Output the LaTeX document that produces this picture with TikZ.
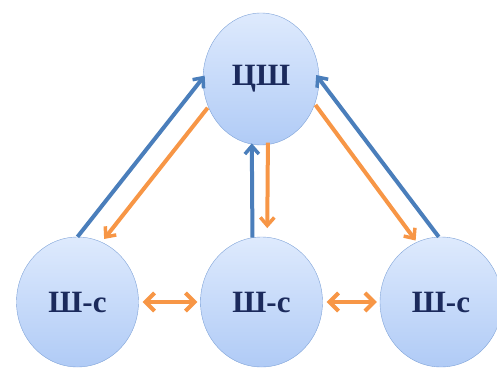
\documentclass[tikz,border=0pt]{standalone}
\usepackage{fontspec}
\setmainfont{Liberation Serif}
\usetikzlibrary{shapes.geometric,arrows.meta}
\definecolor{nodeline}{HTML}{7FA3D8}
\definecolor{nodetop}{HTML}{DEEAFD}
\definecolor{nodebottom}{HTML}{B0CBF6}
\definecolor{textnavy}{HTML}{1B2A5C}
\definecolor{upblue}{HTML}{4A7EBB}
\definecolor{downorange}{HTML}{F79646}
\begin{document}
\begin{tikzpicture}
		[x=1pt,y=-1pt,
		staff/.style={ellipse,draw=nodeline,thin,top color=nodetop,bottom color=nodebottom,
text=textnavy,font=\fontsize{31}{31}\selectfont\bfseries,inner sep=0pt},
		hq/.style={staff,minimum width=116pt,minimum height=132pt},
		unit/.style={staff,minimum width=122pt,minimum height=130pt},
		report/.style={-{Straight Barb[length=8pt,width=14pt,line width=3.5pt]},line width=4pt,upblue},
		order/.style={-{Straight Barb[length=8pt,width=14pt,line width=3.5pt]},line width=4pt,downorange},
		link/.style={{Straight Barb[length=9pt,width=18pt,line width=4pt]}-{Straight Barb[length=9pt,width=18pt,line width=4pt]},line width=4.5pt,downorange,shorten <=4pt,shorten >=3pt}]
		\useasboundingbox (0,0) rectangle (497,369);
		\node at (261, 79) (c) [hq] {ЦШ};
		\node at (77.5, 302) (l) [unit] {Ш-с};
		\node at (261.5, 302) (m) [unit] {Ш-с};
		\node at (441, 302) (r) [unit] {Ш-с};
		% left pair
		\draw [report,shorten >=-3pt] (l.90) -- (c.179);
		\draw [order,shorten <=1pt,shorten >=4pt] (c.208) -- (l.68);
		% middle pair
		\draw [report,shorten >=-1pt] (m.98) -- (c.262);
		\draw [order,shorten <=-2pt,shorten >=9pt] (c.276) -- (m.85);
		% right pair
		\draw [order,shorten <=1pt,shorten >=2pt] (c.335) -- (r.112);
		\draw [report,shorten >=-5pt] (r.92) -- (c.0);
		% between units
		\draw [link] (l.east) -- (m.west);
		\draw [link] (m.east) -- (r.west);
	\end{tikzpicture}
\end{document}
